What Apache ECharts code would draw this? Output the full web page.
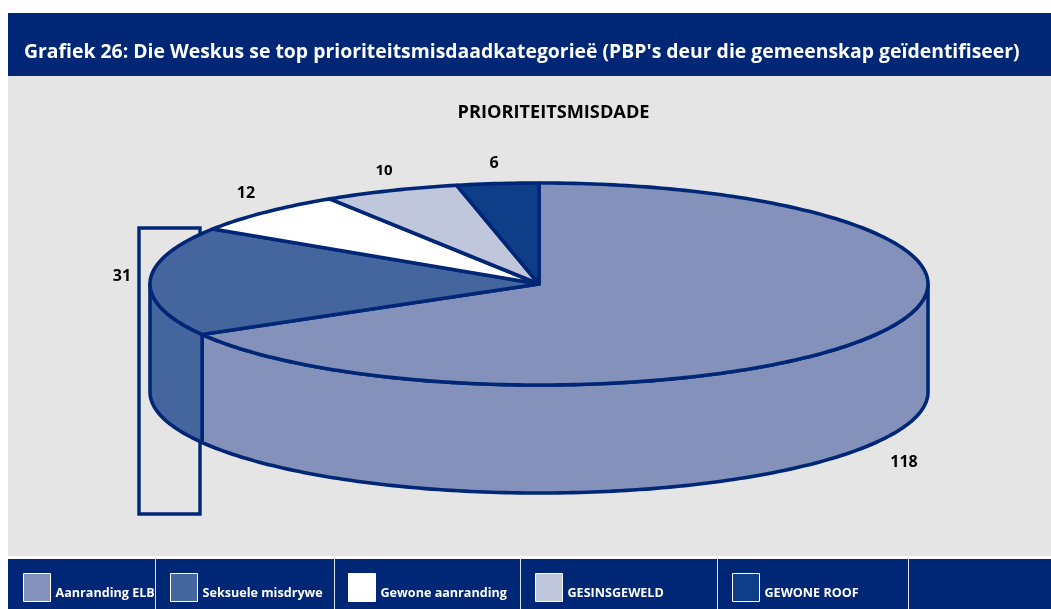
<!DOCTYPE html>
<html><head><meta charset="utf-8">
<script src="https://cdn.jsdelivr.net/npm/echarts@6/dist/echarts.min.js"></script>
<style>html,body{margin:0;padding:0;background:#fff}#c{width:1051px;height:609px}</style></head>
<body><div id="c"></div>
<script>
const categories = ['Aanranding ELB','Seksuele misdrywe','Gewone aanranding','GESINSGEWELD','GEWONE ROOF'];
const values = [118,31,12,10,6];
const colors = ['#8491BA','#45659F','#FFFFFF','#C0C6DC','#0E3E87'];
const labelPos = [[904,462],[122,276],[246,193],[384,171],[494,163]];
const labelFonts = [[16,'bold'],[16,'bold'],[16,'bold'],[15,'bold'],[16,'bold']];
const legendLeft = [23,170,348,535,732];
const separators = [155,334,520,717,908];
const titleText = "Grafiek 26: Die Weskus se top prioriteitsmisdaadkategorieë (PBP's deur die gemeenskap geïdentifiseer)";
const subTitle = 'PRIORITEITSMISDADE';

const NAVY='#002776', FONT='"Open Sans", sans-serif';
const cx=539, cy=284, rx=389, ry=101, depth=108;
const total=values.reduce((a,b)=>a+b,0);
function pt(deg,dy){const r=deg*Math.PI/180;return [cx+rx*Math.sin(r),cy-ry*Math.cos(r)+(dy||0)];}
function arc(a,b,dy){const p=[];const n=Math.max(2,Math.ceil(Math.abs(b-a)));for(let i=0;i<=n;i++)p.push(pt(a+(b-a)*i/n,dy));return p;}
const lineStyle={stroke:NAVY,lineWidth:3.6,lineJoin:'round'};

function sliceItem(idx){
  return function(params,api){
    const before=values.slice(0,idx).reduce((a,b)=>a+b,0);
    const a=before/total*360, b=(before+api.value(0))/total*360;
    const children=[];
    const wa=Math.max(a,90), wb=Math.min(b,270);
    if(wb>wa){
      children.push({type:'polygon',shape:{points:arc(wa,wb,0).concat(arc(wb,wa,depth))},style:Object.assign({fill:colors[idx]},lineStyle)});
    }
    children.push({type:'polygon',shape:{points:[[cx,cy]].concat(arc(a,b,0))},style:Object.assign({fill:colors[idx]},lineStyle)});
    children.push({type:'text',style:{x:labelPos[idx][0],y:labelPos[idx][1],text:String(api.value(0)),fill:'#000',
      font:labelFonts[idx][1]+' '+labelFonts[idx][0]+'px '+FONT,align:'center',verticalAlign:'middle'}});
    return {type:'group',children};
  };
}

const graphicEls=[
  {type:'rect',z:0,shape:{x:8,y:13,width:1043,height:63},style:{fill:NAVY}},
  {type:'rect',z:0,shape:{x:8,y:76,width:1043,height:480},style:{fill:'#E5E5E5'}},
  {type:'rect',z:0,shape:{x:8,y:559,width:1043,height:50},style:{fill:NAVY}},
  {type:'rect',z:1,shape:{x:139,y:228,width:61,height:286},style:{fill:'transparent',stroke:NAVY,lineWidth:3.4}}
];
separators.forEach(x=>graphicEls.push({type:'rect',z:1,shape:{x:x,y:559,width:1,height:50},style:{fill:'#DDE3F0'}}));

const chart=echarts.init(document.getElementById('c'),null,{renderer:'canvas'});
chart.setOption({
  animation:false,
  backgroundColor:'#fff',
  title:[
    {text:titleText,left:19,top:38,textStyle:{color:'#fff',fontSize:19.4,fontWeight:'bold',fontFamily:FONT}},
    {text:subTitle,left:548.5,top:99,textAlign:'center',textStyle:{color:'#000',fontSize:18.2,fontWeight:'bold',fontFamily:FONT}}
  ],
  legend:categories.map((c,i)=>({
    data:[c],left:legendLeft[i],top:573,orient:'horizontal',padding:0,itemWidth:27,itemHeight:28,itemGap:0,icon:'rect',
    selectedMode:false,
    itemStyle:{borderColor:'#fff',borderWidth:1},
    formatter:n=>'{a|'+n+'}',
    textStyle:{color:'#fff',fontSize:12.6,fontWeight:'bold',fontFamily:FONT,
      rich:{a:{color:'#fff',fontSize:12.6,fontWeight:'bold',fontFamily:FONT,padding:[12,0,0,0]}}}
  })),
  graphic:{elements:graphicEls},
  series:categories.map((c,i)=>({
    type:'custom',name:c,coordinateSystem:'none',z:5,silent:true,
    itemStyle:{color:colors[i]},
    renderItem:sliceItem(i),
    data:[[values[i]]]
  }))
});
</script></body></html>
